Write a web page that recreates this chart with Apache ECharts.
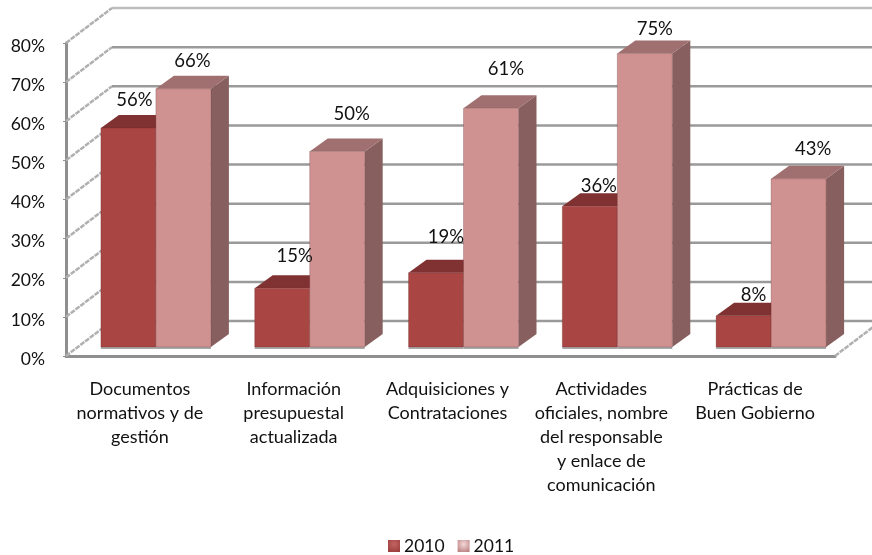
<!DOCTYPE html>
<html>
<head>
<meta charset="utf-8">
<title>Documentos 2010 - 2011</title>
<script src="https://cdn.jsdelivr.net/npm/echarts@6/dist/echarts.min.js"></script>
<style>
html, body { margin: 0; padding: 0; background: #fff; }
#main { width: 872px; height: 555px; }
</style>
</head>
<body>
<div id="main"></div>
<script>
var categories = [
  'Documentos\nnormativos y de\ngestión',
  'Información\npresupuestal\nactualizada',
  'Adquisiciones y\nContrataciones',
  'Actividades\noficiales, nombre\ndel responsable\ny enlace de\ncomunicación',
  'Prácticas de\nBuen Gobierno'
];
var values2010 = [56, 15, 19, 36, 8];
var values2011 = [66, 50, 61, 75, 43];
var tickValues = [0, 10, 20, 30, 40, 50, 60, 70, 80];

// nudges for the value labels, the original placed them by hand
var nudge2010 = [[-3, 0], [3.5, -4], [1, -8], [0, 8], [1, 7]];
var nudge2011 = [[0, 0], [5.5, -9], [6, -11], [1, 3], [5.5, -2]];

var FONT = 'Lato';
var WALL_DX = 46, WALL_DY = -35;   // depth of the whole floor
var BAR_DX = 13, BAR_DY = -9;      // where bars stand on the floor
var DEPTH_DX = 18, DEPTH_DY = -13; // depth of one bar
var BAR_W = 55;

var colors2010 = { front: '#a94543', top: '#7f3231', side: '#7a3635' };
var colors2011 = { front: '#d09191', top: '#a06f6f', side: '#885f5f' };

function rows(vals) {
  return vals.map(function (v, i) { return [i, v]; });
}

function poly(points, color) {
  return { type: 'polygon', shape: { points: points }, style: { fill: color } };
}

// one 3d bar, offset is -1 or 0 for the slot inside the category
function barItem(slot, c) {
  return function (params, api) {
    var base = api.coord([api.value(0), 0]);
    var head = api.coord([api.value(0), api.value(1)]);
    var x0 = base[0] + slot * BAR_W + BAR_DX;
    var x1 = x0 + BAR_W;
    var y0 = base[1] + BAR_DY;
    var y1 = head[1] + BAR_DY;
    return {
      type: 'group',
      children: [
        { type: 'rect', shape: { x: x0, y: y0, width: BAR_W, height: 2 }, style: { fill: '#a9a9a9' } },
        poly([[x1, y0], [x1 + DEPTH_DX, y0 + DEPTH_DY], [x1 + DEPTH_DX, y1 + DEPTH_DY], [x1, y1]], c.side),
        poly([[x0, y1], [x1, y1], [x1 + DEPTH_DX, y1 + DEPTH_DY], [x0 + DEPTH_DX, y1 + DEPTH_DY]], c.top),
        { type: 'rect', shape: { x: x0, y: y1, width: BAR_W, height: y0 - y1 }, style: { fill: c.front, stroke: 'rgba(90,40,40,0.25)', lineWidth: 1 } }
      ]
    };
  };
}

function labelItem(slot, nudges) {
  return function (params, api) {
    var head = api.coord([api.value(0), api.value(1)]);
    var n = nudges[params.dataIndex];
    return {
      type: 'text',
      x: head[0] + (slot + 0.5) * BAR_W + BAR_DX + DEPTH_DX / 2 + n[0],
      y: head[1] + BAR_DY + DEPTH_DY - 15 + n[1],
      style: {
        text: api.value(1) + '%',
        fill: '#111',
        font: '18.5px ' + FONT,
        textAlign: 'center',
        textVerticalAlign: 'middle'
      }
    };
  };
}

// walls: diagonal on the left, then the back line
function wallItem(params, api) {
  var y = api.coord([0, api.value(0)])[1];
  var left = params.coordSys.x;
  var right = left + params.coordSys.width;
  var isTop = api.value(0) === tickValues[tickValues.length - 1];
  var isFloor = api.value(0) === 0;
  var kids = [{
    type: 'line',
    shape: { x1: left, y1: y, x2: left + WALL_DX, y2: y + WALL_DY },
    style: { stroke: '#b0b0b0', lineWidth: 2.5, lineDash: [5, 1] }
  }, {
    type: 'line',
    shape: { x1: left + WALL_DX, y1: y + WALL_DY, x2: right + WALL_DX, y2: y + WALL_DY },
    style: { stroke: isTop ? '#bdbdbd' : '#9a9a9a', lineWidth: 2.5 }
  }];
  if (isFloor) {
    kids.push({
      type: 'line',
      shape: { x1: right, y1: y, x2: right + WALL_DX, y2: y + WALL_DY },
      style: { stroke: '#b0b0b0', lineWidth: 2.5, lineDash: [5, 1] }
    });
  }
  return { type: 'group', children: kids };
}

function swatch(dark, light) {
  return {
    type: 'radial', x: 0.5, y: 0.35, r: 0.7,
    colorStops: [{ offset: 0, color: light }, { offset: 1, color: dark }]
  };
}

var chart = echarts.init(document.getElementById('main'));
chart.setOption({
  backgroundColor: '#fff',
  animation: false,
  textStyle: { fontFamily: FONT },
  grid: { left: 66, top: 43, width: 769, height: 313 },
  legend: {
    left: 383,
    top: 532,
    itemWidth: 12,
    itemHeight: 12,
    itemGap: 13,
    icon: 'rect',
    textStyle: { fontFamily: FONT, fontSize: 17.5, color: '#111', padding: [0, 0, 0, -1] },
    data: [
      { name: '2010', itemStyle: { color: swatch('#9c3f3d', '#c46462') } },
      { name: '2011', itemStyle: { color: swatch('#bd8484', '#f4d8d8') } }
    ]
  },
  xAxis: {
    type: 'category',
    data: categories,
    axisTick: { show: false },
    axisLine: { lineStyle: { color: '#8f8f8f', width: 3 } },
    axisLabel: { margin: 21, interval: 0, fontFamily: FONT, fontSize: 18, lineHeight: 24, color: '#111', padding: [0, 6, 0, 0] }
  },
  yAxis: {
    type: 'value',
    min: 0,
    max: 80,
    interval: 10,
    splitLine: { show: false },
    axisLine: { show: true, lineStyle: { color: '#8f8f8f', width: 3 } },
    axisTick: { show: true, length: 3, lineStyle: { color: '#8f8f8f', width: 1 } },
    axisLabel: { formatter: '{value}%', margin: 21, fontFamily: FONT, fontSize: 17.5, color: '#111', verticalAlign: 'top', lineHeight: 6 }
  },
  series: [
    { type: 'custom', name: 'walls', z: 1, silent: true, clip: false, renderItem: wallItem, data: tickValues.map(function (t) { return [t]; }), encode: { y: 0 } },
    { type: 'custom', name: '2010', z: 3, clip: false, renderItem: barItem(-1, colors2010), itemStyle: { color: colors2010.front }, data: rows(values2010), encode: { x: 0, y: 1 } },
    { type: 'custom', name: '2011', z: 4, clip: false, renderItem: barItem(0, colors2011), itemStyle: { color: colors2011.front }, data: rows(values2011), encode: { x: 0, y: 1 } },
    { type: 'custom', name: 'labels2010', z: 5, silent: true, clip: false, renderItem: labelItem(-1, nudge2010), data: rows(values2010), encode: { x: 0, y: 1 } },
    { type: 'custom', name: 'labels2011', z: 5, silent: true, clip: false, renderItem: labelItem(0, nudge2011), data: rows(values2011), encode: { x: 0, y: 1 } }
  ]
});
window.addEventListener('resize', function () { chart.resize(); });
</script>
</body>
</html>
